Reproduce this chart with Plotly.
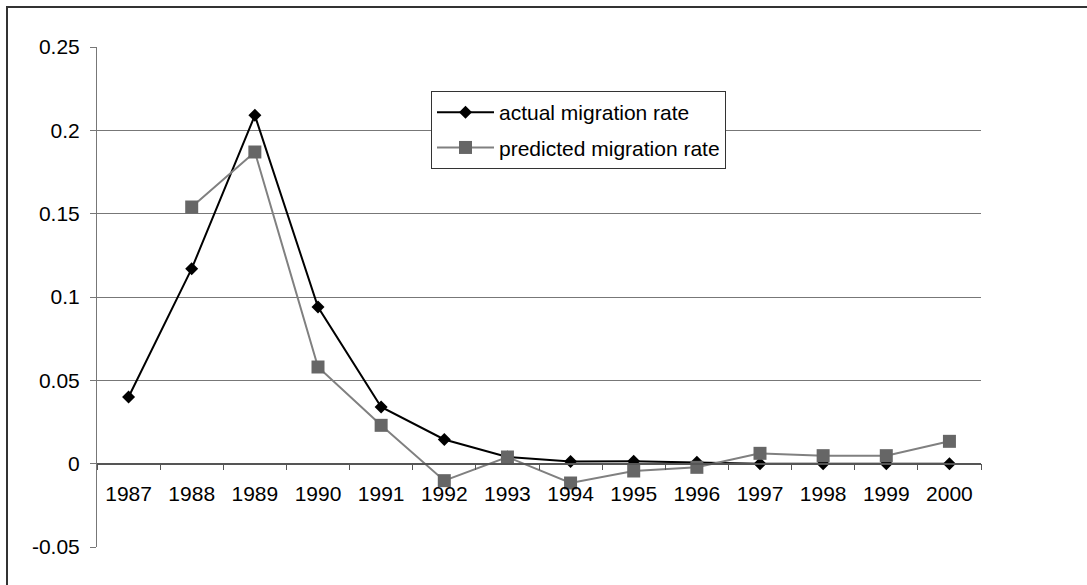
import plotly.graph_objects as go

years = ["1987", "1988", "1989", "1990", "1991", "1992", "1993",
         "1994", "1995", "1996", "1997", "1998", "1999", "2000"]
actual = [0.040, 0.117, 0.209, 0.094, 0.034, 0.0145, 0.004,
          0.0013, 0.0014, 0.0008, 0.0, 0.0, 0.0, 0.0]
predicted_years = years[1:]
predicted = [0.154, 0.187, 0.058, 0.023, -0.0102, 0.004,
             -0.0116, -0.0044, -0.0022, 0.0062, 0.0048, 0.0048, 0.0134]
y_ticks = [-0.05, 0, 0.05, 0.1, 0.15, 0.2, 0.25]
y_labels = ["-0.05", "0", "0.05", "0.1", "0.15", "0.2", "0.25"]

W, H = 1087, 585
L, R, T, B = 97, 981, 47, 547
FONT = "Liberation Sans, Arial, sans-serif"
FS = 21

fig = go.Figure()
fig.add_trace(go.Scatter(
    x=years, y=actual, name="actual migration rate", mode="lines+markers",
    line=dict(color="#000000", width=2),
    marker=dict(symbol="diamond", size=10, color="#000000"),
    legendgroup="a"))
fig.add_trace(go.Scatter(
    x=predicted_years, y=predicted, name="predicted migration rate", mode="lines+markers",
    line=dict(color="#808080", width=2),
    marker=dict(symbol="square", size=13, color="#666666"),
    legendgroup="b"))

def px_x(p):
    return (p - L) / (R - L)

def px_y(p):
    return (B - p) / (B - T)

fig.update_layout(
    width=W, height=H,
    margin=dict(l=L, r=W - R, t=T, b=H - B, pad=0),
    paper_bgcolor="white", plot_bgcolor="white",
    font=dict(family=FONT, size=FS, color="#000000"),
    showlegend=True,
    legend=dict(
        x=px_x(431), y=px_y(91), xanchor="left", yanchor="top",
        bgcolor="white", bordercolor="#333333", borderwidth=1,
        font=dict(family=FONT, size=FS, color="#000000"),
        tracegroupgap=5, itemwidth=57,
    ),
    xaxis=dict(
        type="category", categoryorder="array", categoryarray=years,
        range=[-0.5, 13.5],
        anchor="free", position=(0 - (-0.05)) / 0.30,
        showline=True, linecolor="#555555", linewidth=1.5,
        ticks="outside", tickson="boundaries", ticklen=6, tickcolor="#555555",
        showgrid=False, zeroline=False,
        ticklabelstandoff=11,
        tickfont=dict(family=FONT, size=FS, color="#000000"),
    ),
    yaxis=dict(
        range=[-0.05, 0.25], tickvals=y_ticks, ticktext=y_labels,
        showline=True, linecolor="#777777", linewidth=1,
        ticks="outside", ticklen=6, tickcolor="#777777",
        showgrid=True, gridcolor="#777777", gridwidth=1,
        zeroline=False,
        ticklabelstandoff=6,
        tickfont=dict(family=FONT, size=FS, color="#000000"),
    ),
    shapes=[dict(
        type="rect", xref="paper", yref="paper",
        x0=px_x(7), x1=px_x(1200), y0=px_y(7), y1=px_y(700),
        line=dict(color="#333333", width=2), fillcolor="rgba(0,0,0,0)",
        layer="below",
    )],
)

fig.write_html(
    "out.html",
    config={"displayModeBar": False},
    post_script="document.body.style.margin='0';document.body.style.overflow='hidden';",
)
